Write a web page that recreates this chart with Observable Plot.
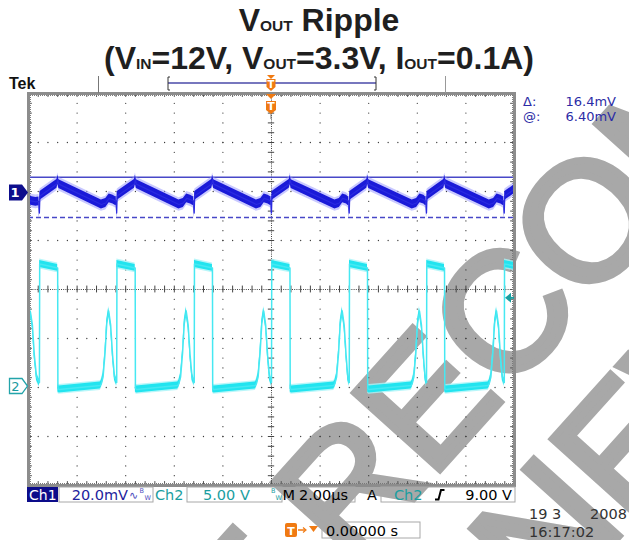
<!DOCTYPE html>
<html><head><meta charset="utf-8">
<script src="https://cdn.jsdelivr.net/npm/d3@7"></script>
<script src="https://cdn.jsdelivr.net/npm/@observablehq/plot@0.6"></script>
<style>
html,body{margin:0;padding:0;background:#fff;}
#chart svg{display:block;}
</style></head><body><div id="chart"></div>
<script>
// ---- data ----
// Ch2 (switch node), time in µs, volts
const ch2T = [-10.00,-9.92,-9.84,-9.76,-9.67,-9.58,
 -9.55,-9.54,-8.80,-8.79,-8.74,-7.05,-7.00,-6.93,-6.85,-6.78,-6.70,-6.62,-6.54,-6.46,-6.38,
 -6.37,-6.36,-5.61,-5.60,-5.55,-3.86,-3.81,-3.74,-3.66,-3.59,-3.51,-3.43,-3.35,-3.27,-3.19,
 -3.18,-3.17,-2.43,-2.42,-2.37,-0.67,-0.62,-0.55,-0.47,-0.40,-0.32,-0.24,-0.16,-0.08,-0.01,
 0.00,0.01,0.76,0.77,0.82,2.56,2.61,2.68,2.76,2.83,2.91,2.99,3.07,3.14,3.19,
 3.20,3.21,3.95,3.96,4.01,5.74,5.79,5.86,5.94,6.01,6.09,6.17,6.25,6.32,6.37,
 6.38,6.39,7.12,7.13,7.18,8.91,8.96,9.03,9.11,9.18,9.26,9.34,9.42,9.50,9.57,
 9.58,9.59,10.00];
const ch2V = [6.8,7.6,6.3,3.2,1.0,0.5,
 0.4,12.5,12.1,-0.2,-0.3,0.1,0.3,1.0,3.4,6.4,7.7,6.3,3.2,1.0,0.5,
 0.4,12.5,12.1,-0.2,-0.3,0.1,0.3,1.0,3.4,6.4,7.7,6.3,3.2,1.0,0.5,
 0.4,12.5,12.1,-0.2,-0.3,0.1,0.3,1.0,3.4,6.4,7.7,6.3,3.2,1.0,0.5,
 0.4,12.5,12.1,-0.2,-0.3,0.1,0.3,1.0,3.4,6.4,7.7,6.3,3.2,1.0,0.5,
 0.4,12.5,12.1,-0.2,-0.3,0.1,0.3,1.0,3.4,6.4,7.7,6.3,3.2,1.0,0.5,
 0.4,12.5,12.1,-0.2,-0.3,0.1,0.3,1.0,3.4,6.4,7.7,6.3,3.2,1.0,0.5,
 0.4,12.5,12.3];
// Ch1 (output ripple, AC), time in µs, millivolts
const ch1T = [-10.00,-9.70,-9.57,
 -9.55,-9.53,-9.47,-8.83,-8.79,-8.75,-7.00,-6.82,-6.68,-6.52,-6.42,-6.39,
 -6.37,-6.35,-6.29,-5.64,-5.60,-5.56,-3.81,-3.63,-3.49,-3.33,-3.23,-3.20,
 -3.18,-3.16,-3.10,-2.46,-2.42,-2.38,-0.62,-0.44,-0.30,-0.14,-0.04,-0.02,
 0.00,0.02,0.08,0.73,0.77,0.81,2.61,2.79,2.93,3.09,3.15,3.18,
 3.20,3.22,3.28,3.92,3.96,4.00,5.79,5.97,6.11,6.27,6.33,6.36,
 6.38,6.40,6.46,7.09,7.13,7.17,8.96,9.14,9.28,9.44,9.53,9.56,
 9.58,9.60,9.66,10.00];
const ch1mV = [-3.0,-3.6,-3.4,
 -8.2,-1.3,-0.8,3.7,5.4,3.6,-4.7,-4.1,-2.2,-2.7,-3.3,-3.2,
 -8.2,-1.3,-0.8,3.7,5.4,3.6,-4.7,-4.1,-2.2,-2.7,-3.3,-3.2,
 -8.2,-1.3,-0.8,3.7,5.4,3.6,-4.7,-4.1,-2.2,-2.7,-3.3,-3.2,
 -8.2,-1.3,-0.8,3.7,5.4,3.6,-4.7,-4.1,-2.2,-2.7,-3.3,-3.2,
 -8.2,-1.3,-0.8,3.7,5.4,3.6,-4.7,-4.1,-2.2,-2.7,-3.3,-3.2,
 -8.2,-1.3,-0.8,3.7,5.4,3.6,-4.7,-4.1,-2.2,-2.7,-3.3,-3.2,
 -8.2,-1.3,-0.8,1.6];

// scope settings (from the readout)
const ch1PerDiv = 20;     // mV/div
const ch2PerDiv = 5;      // V/div
const timePerDiv = 2;     // µs/div
const ch1Pos = 1.97;      // div
const ch2Pos = -1.98;     // div
const cursorAt = 6.40;    // mV
const cursorDelta = 16.4; // mV
const trigLevel = 9.00;   // V
const xDivs = 10, yDivs = 8;

const titleLine1 = [["V",0],["OUT",1],[" Ripple",0]];
const titleLine2 = [["(V",0],["IN",1],["=12V, V",0],["OUT",1],["=3.3V, I",0],["OUT",1],["=0.1A)",0]];
const readDelta = "16.4mV", readAt = "6.40mV";
const watermark1 = "NOT RECOMMENDED", watermark2 = "FOR NEW DESIGNS";

// ---- build ----
const xHalf = xDivs/2*timePerDiv;
const ch1 = ch1T.map((t,i)=>({t, y: ch1mV[i]/ch1PerDiv + ch1Pos}));
const ch2 = ch2T.map((t,i)=>({t, y: ch2V[i]/ch2PerDiv + ch2Pos}));
const minorX = d3.range(-xHalf, xHalf+1e-9, timePerDiv/5);
const majorX = d3.range(-xHalf, xHalf+1e-9, timePerDiv);
const minorY = d3.range(-yDivs/2, yDivs/2+1e-9, 0.2);
const majorY = d3.range(-yDivs/2, yDivs/2+1e-9, 1);
const gridDots = [];
for (const x of majorX) if (Math.abs(x)>1e-9 && Math.abs(Math.abs(x)-xHalf)>1e-9) for (const y of minorY) gridDots.push({x,y});
for (const y of majorY) if (Math.abs(y)>1e-9 && Math.abs(Math.abs(y)-yDivs/2)>1e-9) for (const x of minorX) gridDots.push({x,y});

const h1 = 0.09, h1b = 0.14, h2 = 0.07, h2b = 0.1;
const cur1 = cursorAt/ch1PerDiv + ch1Pos;
const cur2 = (cursorAt-cursorDelta)/ch1PerDiv + ch1Pos;

const chart = Plot.plot({
  width: 629, height: 540,
  marginLeft: 28, marginRight: 115, marginTop: 93, marginBottom: 55,
  x: {domain: [-xHalf, xHalf], axis: null},
  y: {domain: [-yDivs/2, yDivs/2], axis: null},
  style: {background: "transparent", overflow: "visible"},
  marks: [
    Plot.dot(gridDots, {x:"x", y:"y", r:0.65, fill:"#3a3a3a", stroke:null}),
    Plot.ruleX([0], {stroke:"#444", strokeWidth:1, strokeDasharray:"1,1.2"}),
    Plot.ruleY([0], {stroke:"#444", strokeWidth:1, strokeDasharray:"1,1.2"}),
    Plot.ruleX(minorX, {y1:-0.07, y2:0.07, stroke:"#444", strokeWidth:1}),
    Plot.ruleY(minorY, {x1:-0.13, x2:0.13, stroke:"#444", strokeWidth:1}),
    Plot.ruleX(minorX, {y1:yDivs/2, y2:yDivs/2-0.08, stroke:"#555", strokeWidth:1}),
    Plot.ruleX(minorX, {y1:-yDivs/2, y2:-yDivs/2+0.08, stroke:"#555", strokeWidth:1}),
    Plot.ruleY(minorY, {x1:-xHalf, x2:-xHalf+0.16, stroke:"#555", strokeWidth:1}),
    Plot.ruleY(minorY, {x1:xHalf, x2:xHalf-0.16, stroke:"#555", strokeWidth:1}),
    Plot.ruleY([yDivs/2-0.04, -yDivs/2+0.04], {stroke:"#777", strokeWidth:1, strokeDasharray:"1,1"}),
    Plot.ruleX([-xHalf+0.08, xHalf-0.08], {stroke:"#777", strokeWidth:1, strokeDasharray:"1,1"}),
    Plot.ruleY([cur1], {stroke:"#4848c8", strokeWidth:1.5}),
    Plot.ruleY([cur2], {stroke:"#4848c8", strokeWidth:1.5, strokeDasharray:"5,3"}),
    Plot.areaY(ch2, {x:"t", y1:d=>d.y-h2b, y2:d=>d.y+h2b, fill:"#a6f4f8", fillOpacity:0.8}),
    Plot.areaY(ch2, {x:"t", y1:d=>d.y-h2, y2:d=>d.y+h2, fill:"#22e4ef"}),
    Plot.line(ch2, {x:"t", y:"y", stroke:"#46e8f2", strokeWidth:1.5}),
    Plot.areaY(ch1, {x:"t", y1:d=>d.y-h1b, y2:d=>d.y+h1b, fill:"#9d9dff", fillOpacity:0.55}),
    Plot.areaY(ch1, {x:"t", y1:d=>d.y-h1, y2:d=>d.y+h1, fill:"#1a1ad8"}),
    Plot.line(ch1, {x:"t", y:"y", stroke:"#2a2ae0", strokeWidth:1.2}),
    Plot.frame({stroke:"#8c8c8c", strokeWidth:3})
  ]
});
document.getElementById("chart").appendChild(chart);

const svg = d3.select(chart);
const sx = chart.scale("x"), sy = chart.scale("y");
const X0 = sx.apply(-xHalf), X1 = sx.apply(xHalf), Y0 = sy.apply(yDivs/2), Y1 = sy.apply(-yDivs/2);
const XC = sx.apply(0);

// watermark underneath
const wm = svg.insert("g", ":first-child").attr("fill", "#a8a8a8").attr("stroke", "#a8a8a8")
  .attr("stroke-width", 7).attr("stroke-linejoin", "miter").attr("font-family", "Liberation Sans, Arial, sans-serif").attr("font-size", 167)
  .attr("text-anchor", "start");
const ang = -48, rad = ang*Math.PI/180;
const bx = Math.cos(rad), by = Math.sin(rad);      // baseline dir
const ux = Math.sin(rad), uy = -Math.cos(rad);     // up dir
const o1 = [352 - 2.389*167*bx, 567 - 2.389*167*by];
const o2 = [o1[0] + 95*bx - 178*ux, o1[1] + 95*by - 178*uy];
wm.append("text").attr("text-anchor", "start").attr("transform", `translate(${o1[0]},${o1[1]}) rotate(${ang})`).text(watermark1);
wm.append("text").attr("text-anchor", "start").attr("transform", `translate(${o2[0]},${o2[1]}) rotate(${ang})`).text(watermark2);

const g = svg.append("g").attr("text-anchor", "start");
// title
function titleLine(parts, y) {
  const t = g.append("text").attr("x", 319).attr("y", y).attr("text-anchor", "middle")
    .attr("font-family", "Liberation Sans, Arial, sans-serif").attr("font-weight", "bold")
    .attr("font-size", 32).attr("fill", "#1f1f1f");
  for (const [s, sub] of parts) {
    t.append("tspan").attr("font-size", sub ? 15.5 : 32).text(s);
  }
}
titleLine(titleLine1, 31);
titleLine(titleLine2, 69);

const mono = "DejaVu Sans, sans-serif";
function txt(x, y, s, opts={}) {
  const t = g.append("text").attr("x", x).attr("y", y).attr("font-family", opts.family || mono)
    .attr("font-size", opts.size || 14).attr("fill", opts.fill || "#000")
    .attr("text-anchor", opts.anchor || "start").text(s);
  if (opts.weight) t.attr("font-weight", opts.weight);
  return t;
}
txt(9, 89, "Tek", {family:"Liberation Sans, Arial, sans-serif", weight:"bold", size:16, fill:"#111"});

// record bar
g.append("line").attr("x1", 98.5).attr("x2", 98.5).attr("y1", 76).attr("y2", Y0).attr("stroke", "#777").attr("stroke-width", 1);
g.append("line").attr("x1", 445.5).attr("x2", 445.5).attr("y1", 76).attr("y2", Y0).attr("stroke", "#999").attr("stroke-width", 1);
g.append("line").attr("x1", 168).attr("x2", 376).attr("y1", 83).attr("y2", 83).attr("stroke", "#4a4aa8").attr("stroke-width", 1.5);
g.append("path").attr("d", "M170,77 L168,77 L168,90 L170,90 M374,77 L376,77 L376,90 L374,90").attr("fill", "none").attr("stroke", "#333").attr("stroke-width", 1);
const orange = "#f07a12";
g.append("path").attr("d", `M${XC-4},75 h8 l-4,4 Z`).attr("fill", orange);
g.append("path").attr("d", `M${XC-4.5},79 h9 v8 l-4.5,4 l-4.5,-4 Z`).attr("fill", orange);
txt(XC, 88, "T", {anchor:"middle", weight:"bold", size:10, fill:"#fff"});
g.append("path").attr("d", `M${XC-5},${Y0+1} h10 l-5,5 Z`).attr("fill", orange);
g.append("path").attr("d", `M${XC-5},101 h10 v9 l-5,4 l-5,-4 Z`).attr("fill", orange);
txt(XC, 110, "T", {anchor:"middle", weight:"bold", size:11, fill:"#fff"});
g.append("line").attr("x1", XC).attr("x2", XC).attr("y1", 114).attr("y2", 119).attr("stroke", "#777");

// channel markers
const c1 = sy.apply(ch1Pos), c2 = sy.apply(ch2Pos);
g.append("path").attr("d", `M9,${c1-8} H22 L28,${c1} L22,${c1+8} H9 Z`).attr("fill", "#0d0d8c");
txt(15, c1+5, "1", {anchor:"middle", weight:"bold", size:13, fill:"#fff"});
g.append("path").attr("d", `M9.5,${c2-7.5} H22 L27.5,${c2} L22,${c2+7.5} H9.5 Z`).attr("fill", "#fff").attr("stroke", "#23a4aa").attr("stroke-width", 1.3);
txt(15.5, c2+5, "2", {anchor:"middle", size:13, fill:"#1a9aa0"});
// trigger level arrow
const ty = sy.apply(trigLevel/ch2PerDiv + ch2Pos);
g.append("path").attr("d", `M${X1-9},${ty} L${X1-3},${ty-5} L${X1-3},${ty+5} Z`).attr("fill", "#1a9ea0");
g.append("line").attr("x1", X1-4).attr("x2", X1).attr("y1", ty).attr("y2", ty).attr("stroke", "#1a9ea0").attr("stroke-width", 2);

// cursor readout
txt(523, 106, "Δ:", {size:13, fill:"#2b2ba6"});
txt(616, 106, readDelta, {size:13, fill:"#2b2ba6", anchor:"end"});
txt(523, 121, "@:", {size:13, fill:"#2b2ba6"});
txt(616, 121, readAt, {size:13, fill:"#2b2ba6", anchor:"end"});

// bottom status bar
const by0 = 487, bh = 15, bb = 499.5;
g.append("rect").attr("x", 27).attr("y", by0).attr("width", 31).attr("height", bh).attr("fill", "#0c0c8a");
txt(29, bb, "Ch1", {fill:"#fff", size:14});
function box(x, w) { g.append("rect").attr("x", x).attr("y", by0).attr("width", w).attr("height", bh).attr("fill", "none").attr("stroke", "#a8a8a8"); }
box(59, 94); box(187, 95); box(296, 59); box(381, 134);
txt(128, bb, `${ch1PerDiv.toFixed(1)}mV`, {fill:"#22229c", size:14.5, anchor:"end"});
txt(129, bb-1, "∿", {fill:"#5050c0", size:11});
txt(139.5, bb-6.5, "B", {fill:"#5050c0", size:6.5});
txt(144.5, bb, "W", {fill:"#5050c0", size:6.5});
txt(155, bb, "Ch2", {fill:"#1a9ea0", size:14.5});
txt(203, bb, `${ch2PerDiv.toFixed(2)} V`, {fill:"#1a9ea0", size:14.5});
txt(271, bb-6.5, "B", {fill:"#1a9ea0", size:6.5});
txt(275.5, bb, "W", {fill:"#1a9ea0", size:6.5});
txt(282.5, bb, "M", {size:14.5});
txt(299, bb, `${timePerDiv.toFixed(2)}µs`, {size:14.5});
txt(367, bb, "A", {size:14.5});
txt(394, bb, "Ch2", {fill:"#1a9ea0", size:14.5});
g.append("path").attr("d", `M435,${bb} h3.5 l2.5,-9.5 h3.5`).attr("fill", "none").attr("stroke", "#000").attr("stroke-width", 2);
txt(512, bb, `${trigLevel.toFixed(2)} V`, {size:14.5, anchor:"end"});

// date / trigger position
txt(529, 519, "19 3", {size:14.5, fill:"#333"});
txt(627, 519, "2008", {size:14.5, fill:"#333", anchor:"end"});
txt(529, 537, "16:17:02", {size:14.5, fill:"#333"});
g.append("rect").attr("x", 285).attr("y", 523).attr("width", 12).attr("height", 14).attr("rx", 2).attr("fill", orange);
txt(291, 534.5, "T", {fill:"#fff", size:11, anchor:"middle", weight:"bold"});
g.append("path").attr("d", "M298,530 h7").attr("stroke", orange).attr("stroke-width", 1.5);
g.append("path").attr("d", "M303,527.5 l3,2.5 l-3,2.5").attr("fill", "none").attr("stroke", orange).attr("stroke-width", 1.2);
g.append("path").attr("d", "M309,526 h9 l-4.5,6 Z").attr("fill", orange);
g.append("rect").attr("x", 322).attr("y", 522).attr("width", 98).attr("height", 16).attr("fill", "none").attr("stroke", "#a8a8a8");
txt(326, 535.5, "0.00000 s", {size:14.5});
</script></body></html>
